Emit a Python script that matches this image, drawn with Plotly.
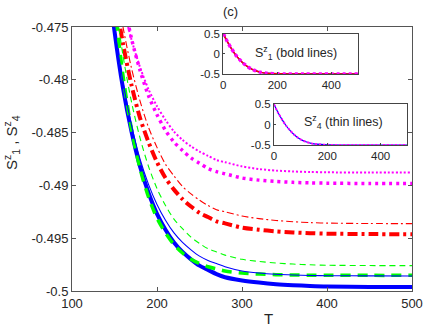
import plotly.graph_objects as go

# temperature grid used for the main curves
T = [140, 150, 160, 170, 180, 190, 200, 210, 220, 230, 240, 250, 260, 270, 280,
     300, 320, 340, 360, 380, 400, 450, 500]

# bold lines (S1^z)
s1_blue = [-0.4685, -0.4754, -0.4808, -0.4849, -0.4882, -0.4907, -0.4927, -0.4942, -0.4954, -0.4963,
           -0.4970, -0.4976, -0.4980, -0.4984, -0.4987, -0.49900, -0.49920, -0.49935, -0.49945, -0.49952,
           -0.49957, -0.49961, -0.49962]
s1_green = [-0.4632, -0.4727, -0.4796, -0.4847, -0.4884, -0.4911, -0.4931, -0.4945, -0.4956, -0.4964,
            -0.4970, -0.4974, -0.4977, -0.4979, -0.4981, -0.49830, -0.49840, -0.49845, -0.49848, -0.49850,
            -0.49851, -0.49852, -0.49852]
s1_red = [-0.4653, -0.4716, -0.4766, -0.4805, -0.4836, -0.4859, -0.4878, -0.4893, -0.4904, -0.4913,
          -0.4920, -0.4926, -0.4930, -0.4934, -0.4936, -0.49400, -0.49420, -0.49435, -0.49445, -0.49452,
          -0.49457, -0.49461, -0.49462]
s1_mag = [-0.4600, -0.4672, -0.4722, -0.4761, -0.4791, -0.4815, -0.4833, -0.4848, -0.4859, -0.4867,
          -0.4874, -0.4879, -0.4884, -0.4887, -0.4889, -0.48930, -0.48950, -0.48963, -0.48971, -0.48976,
          -0.48979, -0.48982, -0.48983]

# thin lines (S4^z)
s4_blue = [-0.4683, -0.4750, -0.4802, -0.4843, -0.4875, -0.4899, -0.4918, -0.4933, -0.4945, -0.4954,
           -0.4961, -0.4967, -0.4971, -0.4974, -0.4977, -0.49810, -0.49830, -0.49842, -0.49849, -0.49853,
           -0.49855, -0.49857, -0.49858]
s4_green = [-0.4647, -0.4720, -0.4777, -0.4821, -0.4855, -0.4882, -0.4903, -0.4919, -0.4932, -0.4941,
            -0.4949, -0.4955, -0.4960, -0.4963, -0.4966, -0.49700, -0.49720, -0.49735, -0.49745, -0.49752,
            -0.49756, -0.49759, -0.49760]
s4_red = [-0.4637, -0.4700, -0.4750, -0.4789, -0.4820, -0.4845, -0.4864, -0.4880, -0.4891, -0.4901,
          -0.4908, -0.4914, -0.4919, -0.4923, -0.4925, -0.49290, -0.49315, -0.49332, -0.49344, -0.49352,
          -0.49357, -0.49361, -0.49362]
s4_mag = [-0.4630, -0.4688, -0.4729, -0.4762, -0.4788, -0.4809, -0.4825, -0.4838, -0.4849, -0.4857,
          -0.4863, -0.4868, -0.4872, -0.4876, -0.4878, -0.48820, -0.48845, -0.48860, -0.48868, -0.48873,
          -0.48876, -0.48878, -0.48879]

# inset curves (full range)
T_in = [0, 15, 30, 45, 60, 75, 90, 105, 120, 140, 160, 200, 300, 400, 500]
s_in = [0.5, 0.30, 0.13, -0.02, -0.14, -0.24, -0.32, -0.38, -0.42, -0.46, -0.48, -0.495, -0.5, -0.5, -0.5]

ytick_vals = [-0.5, -0.495, -0.49, -0.485, -0.48, -0.475]
ytick_text = ['-0.5', '-0.495', '-0.49', '-0.485', '-0.48', '-0.475']

BLUE, GREEN, RED, MAG = '#0000ff', '#00ff00', '#ff0000', '#ff00ff'
FONT = 'Liberation Sans, Arial, sans-serif'

fig = go.Figure()

def add(x, y, color, width, dash, xa='x', ya='y'):
    fig.add_trace(go.Scatter(x=x, y=y, mode='lines', xaxis=xa, yaxis=ya,
                             line=dict(color=color, width=width, dash=dash, shape='spline', smoothing=0.8),
                             showlegend=False, hoverinfo='skip'))

# bold
add(T, s1_blue, BLUE, 4, 'solid')
add(T, s1_green, GREEN, 3.5, '10px,7px')
add(T, s1_red, RED, 4, '10px,4px,3px,4px')
add(T, s1_mag, MAG, 3.5, '3px,4px')
# thin
add(T, s4_blue, BLUE, 1.1, 'solid')
add(T, s4_green, GREEN, 1.1, '6px,4px')
add(T, s4_red, RED, 1.1, '7px,3px,2px,3px')
add(T, s4_mag, MAG, 2, '2px,2px')

# inset 1 (bold)
add(T_in, s_in, BLUE, 1.5, 'solid', 'x2', 'y2')
add(T_in, s_in, RED, 1.5, 'solid', 'x2', 'y2')
add(T_in, s_in, MAG, 3.5, '3px,3px', 'x2', 'y2')
# inset 2 (thin)
add(T_in, s_in, BLUE, 1.2, 'solid', 'x3', 'y3')
add(T_in, s_in, MAG, 2, '2px,2px', 'x3', 'y3')

axis_common = dict(showline=True, mirror='ticks', linecolor='#555555', linewidth=1,
                   ticks='inside', ticklen=4, tickcolor='#555555', showgrid=False,
                   zeroline=False, tickfont=dict(family=FONT, size=13, color='#262626'))

inset_common = dict(showline=True, mirror=True, linecolor='#444444', linewidth=1,
                    ticks='inside', ticklen=2, tickcolor='#444444', showgrid=False,
                    zeroline=False, tickfont=dict(family=FONT, size=11.5, color='#262626'))


def px_note(text, x, y, size, angle=0):
    # place a text by its centre, given in page pixels
    return dict(text=text, xref='paper', yref='paper', x=(x - 72) / 340, y=(291 - y) / 264,
                xanchor='center', yanchor='middle', textangle=angle, showarrow=False,
                font=dict(family=FONT, size=size, color='#262626'))


fig.update_layout(
    width=436, height=327,
    margin=dict(l=72, r=24, t=27, b=36),
    paper_bgcolor='white', plot_bgcolor='white',
    xaxis=dict(range=[100, 500], tickvals=[100, 200, 300, 400, 500], **axis_common),
    yaxis=dict(range=[-0.5, -0.475], tickvals=ytick_vals, ticktext=ytick_text, **axis_common),
    xaxis2=dict(domain=[0.445, 0.842], anchor='y2', range=[0, 500], tickvals=[0, 200, 400], **inset_common),
    yaxis2=dict(domain=[0.822, 0.975], anchor='x2', range=[-0.5, 0.5], tickvals=[-0.5, 0, 0.5],
                ticktext=['-0.5', '0', '0.5'], **inset_common),
    xaxis3=dict(domain=[0.594, 0.986], anchor='y3', range=[0, 500], tickvals=[0, 200, 400], **inset_common),
    yaxis3=dict(domain=[0.553, 0.707], anchor='x3', range=[-0.5, 0.5], tickvals=[-0.5, 0, 0.5],
                ticktext=['-0.5', '0', '0.5'], **inset_common),
    annotations=[
        px_note('(c)', 230, 12, 13),
        px_note('T', 268, 318, 15),
        px_note('S<sup>z</sup><sub>1</sub> , S<sup>z</sup><sub>4</sub>', 11, 143, 15, -90),
        px_note('S<sup>z</sup><sub>1</sub> (bold lines)', 296, 53, 12.5),
        px_note('S<sup>z</sup><sub>4</sub> (thin lines)', 343, 122, 12.5),
    ],
)

fig.write_html("out.html", config={'displayModeBar': False},
               post_script="document.body.style.margin='0px';")
